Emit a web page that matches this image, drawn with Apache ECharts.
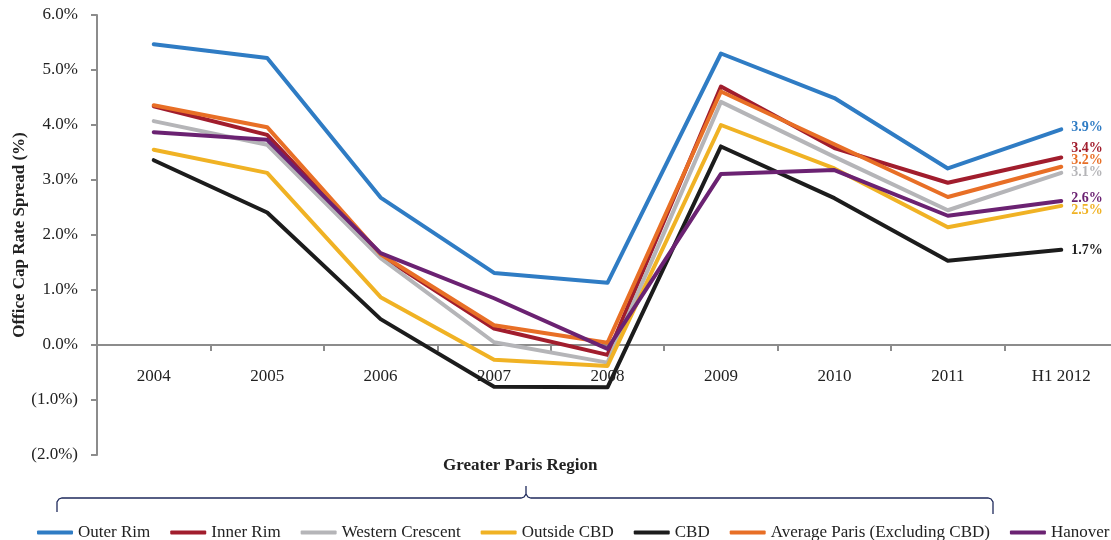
<!DOCTYPE html>
<html>
<head>
<meta charset="utf-8">
<script src="https://cdn.jsdelivr.net/npm/echarts@6/dist/echarts.min.js"></script>
<style>
  html, body { margin: 0; padding: 0; background: #fff; }
  #capChart { width: 1111px; height: 540px; }
</style>
</head>
<body>
<div id="capChart"></div>
<script>
var years = ['2004', '2005', '2006', '2007', '2008', '2009', '2010', '2011', 'H1 2012'];

var outerRim      = [5.47, 5.22, 2.68, 1.31, 1.13, 5.30, 4.49, 3.21, 3.92];
var innerRim      = [4.34, 3.82, 1.63, 0.30, -0.18, 4.70, 3.58, 2.95, 3.41];
var westernCres   = [4.07, 3.64, 1.58, 0.05, -0.32, 4.42, 3.42, 2.45, 3.13];
var outsideCbd    = [3.55, 3.13, 0.87, -0.27, -0.38, 4.00, 3.21, 2.14, 2.53];
var cbd           = [3.36, 2.41, 0.47, -0.76, -0.77, 3.61, 2.67, 1.53, 1.73];
var avgParis      = [4.36, 3.96, 1.65, 0.36, 0.04, 4.61, 3.65, 2.69, 3.24];
var hanover       = [3.87, 3.73, 1.67, 0.85, -0.07, 3.11, 3.18, 2.35, 2.62];

var yTicks = [-2, -1, 0, 1, 2, 3, 4, 5, 6];

var serif = '"Liberation Serif", "DejaVu Serif", serif';

function pct(v) {
  var s = Math.abs(v).toFixed(1) + '%';
  return v < 0 ? '(' + s + ')' : s;
}

// nudge end labels so they don't sit on top of each other
function line(name, data, color, dy) {
  return {
    name: name,
    type: 'line',
    data: data,
    symbol: 'none',
    lineStyle: { width: 4, color: color, cap: 'round', join: 'round' },
    itemStyle: { color: color },
    endLabel: {
      show: true,
      distance: 10,
      offset: [0, dy],
      color: color,
      fontFamily: serif,
      fontWeight: 'bold',
      fontSize: 14,
      formatter: function (p) { return p.value.toFixed(1) + '%'; }
    },
    emphasis: { disabled: true }
  };
}

var myChart = echarts.init(document.getElementById('capChart'));

var braceStyle = { stroke: '#1f2a5c', lineWidth: 1.3, fill: 'none' };

myChart.setOption({
  animation: false,
  grid: { left: 97, top: 15, width: 1021, height: 440, outerBoundsMode: 'none' },
  legend: {
    left: 32,
    top: 519,
    width: 1400,
    itemWidth: 36,
    itemHeight: 4,
    itemGap: 20,
    icon: 'roundRect',
    textStyle: { fontFamily: serif, fontSize: 17, color: '#222' },
    data: ['Outer Rim', 'Inner Rim', 'Western Crescent', 'Outside CBD', 'CBD',
           'Average Paris (Excluding CBD)', 'Hanover']
  },
  xAxis: {
    type: 'category',
    data: years,
    boundaryGap: true,
    offset: -110,   // sits on the 0% line
    axisLine: { onZero: false, lineStyle: { color: '#8c8c8c', width: 2 } },
    axisTick: { show: true, length: 6, lineStyle: { color: '#8c8c8c', width: 2 } },
    axisLabel: { margin: 23, fontFamily: serif, fontSize: 17, color: '#222' }
  },
  yAxis: {
    type: 'value',
    min: yTicks[0],
    max: yTicks[yTicks.length - 1],
    interval: 1,
    name: 'Office Cap Rate Spread (%)',
    nameLocation: 'middle',
    nameGap: 69,
    nameMoveOverlap: false,
    nameTextStyle: { fontFamily: serif, fontWeight: 'bold', fontSize: 17, color: '#222' },
    splitLine: { show: false },
    axisLine: { show: true, lineStyle: { color: '#8c8c8c', width: 2 } },
    axisTick: { show: true, length: 6, lineStyle: { color: '#8c8c8c', width: 2 } },
    axisLabel: { margin: 19, fontFamily: serif, fontSize: 17, color: '#222', formatter: pct }
  },
  graphic: [
    {
      type: 'text',
      left: 443,
      top: 457,
      style: { text: 'Greater Paris Region', font: 'bold 17px ' + serif, fill: '#222' }
    },
    // the brace under the region title
    {
      type: 'polyline',
      shape: { points: [[57, 512], [57, 502], [59, 499], [62, 498], [521, 498], [524, 497], [526, 494], [526, 486]] },
      style: braceStyle
    },
    {
      type: 'polyline',
      shape: { points: [[526, 494], [528, 497], [531, 498], [988, 498], [991, 499], [993, 502], [993, 514]] },
      style: braceStyle
    }
  ],
  series: [
    line('Outer Rim', outerRim, '#2f7cc4', -2),
    line('Inner Rim', innerRim, '#a11d2d', -9),
    line('Western Crescent', westernCres, '#b5b5b8', 0),
    line('Outside CBD', outsideCbd, '#f0b224', 5),
    line('CBD', cbd, '#1c1c1c', 1),
    line('Average Paris (Excluding CBD)', avgParis, '#e86f26', -6),
    line('Hanover', hanover, '#6b2272', -3)
  ]
});
</script>
</body>
</html>
